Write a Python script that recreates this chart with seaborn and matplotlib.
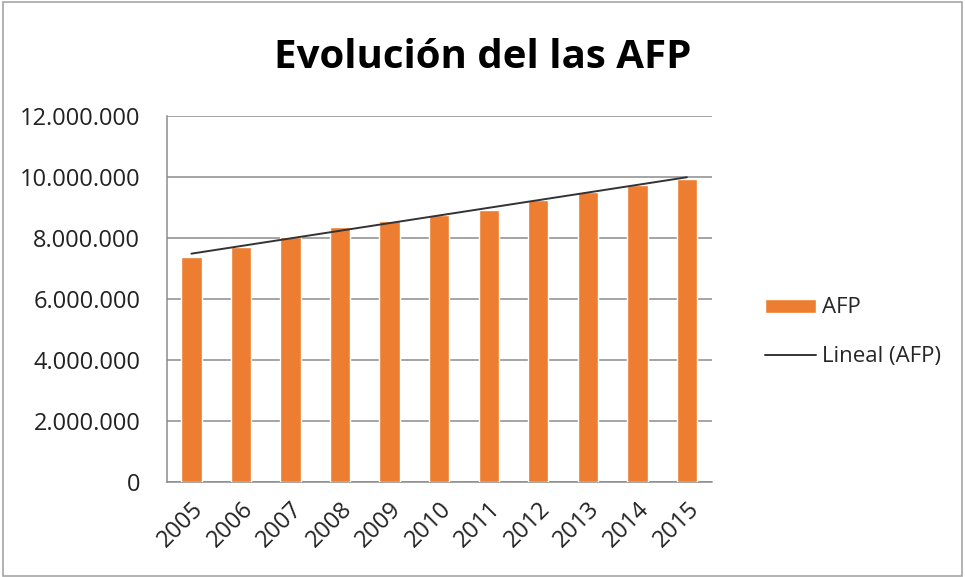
import numpy as np
import pandas as pd
import matplotlib
matplotlib.use("Agg")
import matplotlib.pyplot as plt
import seaborn as sns
from matplotlib.patches import Rectangle
from matplotlib.ticker import FuncFormatter

years = ["2005", "2006", "2007", "2008", "2009", "2010",
         "2011", "2012", "2013", "2014", "2015"]
afp = [7380000, 7690000, 8010000, 8340000, 8540000, 8740000,
       8920000, 9250000, 9490000, 9720000, 9940000]
y_ticks = [0, 2000000, 4000000, 6000000, 8000000, 10000000, 12000000]

sns.set_style("white")
plt.rcParams["font.family"] = ["Open Sans", "DejaVu Sans"]

df = pd.DataFrame({"year": years, "afp": afp})

fig = plt.figure(figsize=(9.65, 5.77), dpi=100)
ax = fig.add_axes([0.1727, 0.1652, 0.5648, 0.6343])

sns.barplot(data=df, x="year", y="afp", color="#ED7D31", width=0.41,
            saturation=1, ax=ax, label="AFP", zorder=3)
if ax.get_legend() is not None:
    ax.get_legend().remove()

# linear trend, like Excel's "Lineal"
pos = np.arange(len(years))
slope, icpt = np.polyfit(pos, afp, 1)
ax.plot(pos, slope * pos + icpt, color="#333333", lw=1.4, zorder=4,
        label="Lineal (AFP)")

ax.set_ylim(0, 12000000)
ax.set_xlim(-0.5, len(years) - 0.5)
ax.set_yticks(y_ticks)
ax.yaxis.set_major_formatter(FuncFormatter(lambda v, p: f"{int(v):,}".replace(",", ".")))
ax.grid(axis="y", color="#8c8c8c", lw=1.1, zorder=0)
ax.set_xlabel("")
ax.set_ylabel("")

for s in ["top", "right"]:
    ax.spines[s].set_visible(False)
ax.spines["left"].set_color("#8c8c8c")
ax.spines["bottom"].set_color("#8c8c8c")
ax.spines["left"].set_linewidth(1.1)
ax.spines["bottom"].set_linewidth(1.1)

ax.tick_params(axis="y", length=0, pad=19, labelsize=17, labelcolor="#222222")
ax.tick_params(axis="x", length=0, pad=11, labelsize=17, labelcolor="#222222")
plt.setp(ax.get_xticklabels(), rotation=45, ha="right", rotation_mode="anchor")

fig.text(0.5, 0.882, "Evolución del las AFP", ha="center", va="baseline",
         fontsize=29, fontweight="bold", color="black")

h, l = ax.get_legend_handles_labels()
order = [l.index("AFP"), l.index("Lineal (AFP)")]
fig.legend([h[i] for i in order], [l[i] for i in order], loc="center left",
           bbox_to_anchor=(0.772, 0.424), frameon=False, fontsize=16,
           handlelength=2.3, handleheight=0.6, handletextpad=0.25,
           labelspacing=1.25)

fig.patches.append(Rectangle((0.003, 0.002), 0.994, 0.994, transform=fig.transFigure,
                             fill=False, edgecolor="#a6a6a6", lw=1.2))

fig.savefig("out.png", dpi=100)
